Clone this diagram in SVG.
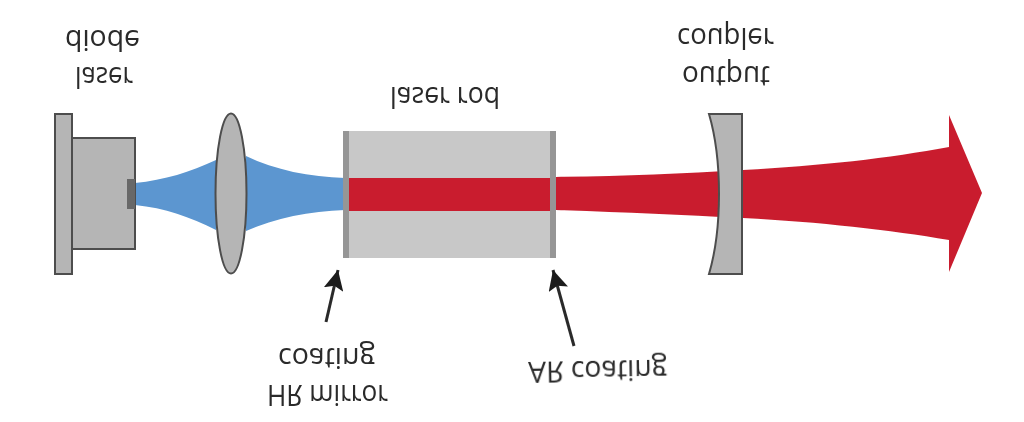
<svg xmlns="http://www.w3.org/2000/svg" width="1024" height="422" viewBox="0 0 1024 422">
<style>
.l{font-family:"Open Sans","Liberation Sans",sans-serif;font-size:29px;fill:#2b2b2b}
.g{fill:#b5b5b5;stroke:#4d4d4d;stroke-width:2}
.c{stroke:#2b2b2b;stroke-width:3;fill:none;marker-end:url(#a)}
</style>
<defs>
<marker id="a" markerUnits="userSpaceOnUse" markerWidth="20" markerHeight="20" refX="16" refY="8" orient="auto" viewBox="0 0 16 16"><path d="M0 0L16 8L0 16L3 8Z" fill="#1f1f1f"/></marker>
<filter id="b" filterUnits="userSpaceOnUse" x="0" y="0" width="1024" height="422"><feGaussianBlur stdDeviation="0.6"/></filter>
</defs>
<rect width="1024" height="422" fill="#fff"/>
<g filter="url(#b)">
<g id="blue-beam" fill="#5b96d0">
<path d="M135 183C165 180 190 172 216 160V230C190 217 165 208 135 205Z"/>
<path d="M246 156C275 170 310 177 345 178V210C310 211 275 218 246 231Z"/>
</g>
<g id="laser-rod">
<rect x="345" y="131" width="209" height="127" fill="#c8c8c8"/>
<rect x="349" y="178" width="202" height="33" fill="#c91f2e"/>
<rect x="343" y="131" width="6" height="127" fill="#969696"/>
<rect x="550" y="131" width="6" height="127" fill="#969696"/>
<text class="l" transform="translate(390 87) scale(1 -1)" textLength="110" lengthAdjust="spacingAndGlyphs">laser rod</text>
</g>
<g id="red-beam">
<path d="M556 177C620 176 680 174 743 170C820 166 890 158 949 147V115L982 193L949 272V240C890 230 820 222 743 218C680 215 620 212 556 210Z" fill="#c91f2e"/>
</g>
<g id="laser-diode">
<rect class="g" x="55" y="114" width="17" height="160"/>
<rect class="g" x="72" y="138" width="63" height="111"/>
<rect x="127" y="179" width="8" height="30" fill="#676767"/>
<text class="l" transform="translate(65 30) scale(1 -1)" textLength="75" lengthAdjust="spacingAndGlyphs">diode</text>
<text class="l" transform="translate(75 67) scale(1 -1)" textLength="58" lengthAdjust="spacingAndGlyphs">laser</text>
</g>
<g id="lens">
<ellipse class="g" cx="231" cy="193.500" rx="15.500" ry="80" stroke-width="1.500"/>
</g>
<g id="output-coupler">
<path class="g" d="M709 114H742V274H709C716 250 719 220 719 194C719 168 716 138 709 114Z"/>
<text class="l" transform="translate(677 28) scale(1 -1)" textLength="97" lengthAdjust="spacingAndGlyphs">coupler</text>
<text class="l" transform="translate(682 66) scale(1 -1)" textLength="88" lengthAdjust="spacingAndGlyphs">output</text>
</g>
<g id="hr-label">
<text class="l" transform="translate(278 348) scale(1 -1)" textLength="97" lengthAdjust="spacingAndGlyphs">coating</text>
<text class="l" transform="translate(267 385) scale(1 -1)" textLength="121" lengthAdjust="spacingAndGlyphs">HR mirror</text>
</g>
<g id="ar-label">
<text class="l" transform="translate(528 362) rotate(-1) scale(1 -1)" textLength="139" lengthAdjust="spacingAndGlyphs">AR coating</text>
</g>
<g id="connectors">
<line class="c" x1="326" y1="322" x2="338" y2="270"/>
<line class="c" x1="574" y1="346" x2="553" y2="270"/>
</g>
</g>
</svg>
